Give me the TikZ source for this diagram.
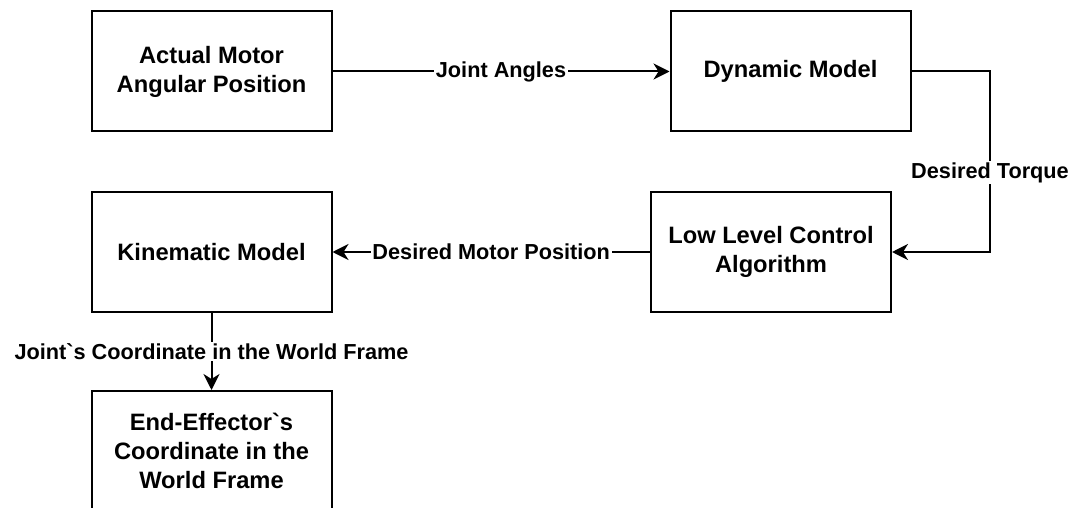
\documentclass[tikz,border=0pt]{standalone}
\usepackage{fontspec}
\setmainfont{Liberation Sans}
\usetikzlibrary{arrows.meta}
\begin{document}
\begin{tikzpicture}[x=1pt,y=-1pt,
  block/.style={draw, line width=2pt, minimum width=240pt, minimum height=120pt,
    inner sep=0pt, align=center, font=\fontsize{23.7}{29}\selectfont\bfseries},
  conn/.style={draw, line width=2pt, -{Stealth[length=16pt,width=16pt,inset=5pt]}},
  lbl/.style={fill=white, inner sep=1.5pt, font=\fontsize{21.7}{26}\selectfont\bfseries}]
\useasboundingbox (0,0) rectangle (1074,508);

% processing blocks
\node[block] (actual) at (211.5,71.5) {Actual Motor\\Angular Position};
\node[block] (dyn) at (790.5,71.5) {Dynamic Model};
\node[block] (llc) at (771,252) {Low Level Control\\Algorithm};
\node[block] (kin) at (211.5,252) {Kinematic Model};
\node[block] (ee) at (211.5,451) {End-Effector\textasciigrave s\\Coordinate in the\\World Frame};

% bends of the torque feedback line
\coordinate (t1) at (990,71.5);
\coordinate (t2) at (990,252);

% connections
\draw[conn] (actual) -- node[lbl]{Joint Angles} (dyn);
\draw[conn] (dyn.east) -- (t1) -- node[lbl, pos=0.56]{Desired Torque} (t2) -- (llc.east);
\draw[conn] (llc) -- node[lbl]{Desired Motor Position} (kin);
\draw[conn] (kin) -- node[lbl]{Joint\textasciigrave s Coordinate in the World Frame} (ee);
\end{tikzpicture}
\end{document}
